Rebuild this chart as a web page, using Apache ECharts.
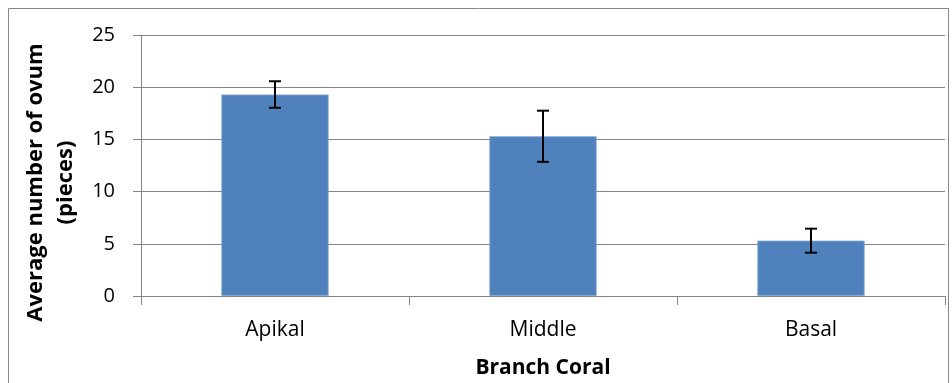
<!DOCTYPE html>
<html><head><meta charset="utf-8">
<script src="https://cdn.jsdelivr.net/npm/echarts@6/dist/echarts.min.js"></script>
<style>html,body{margin:0;padding:0;background:#fff}#c{width:952px;height:383px}</style>
</head><body><div id="c"></div>
<script>
const categories = ['Apikal', 'Middle', 'Basal'];
const means = [19.3, 15.3, 5.3];
const errors = [1.27, 2.45, 1.15];
const yTicks = [0, 5, 10, 15, 20, 25];

const chart = echarts.init(document.getElementById('c'));
const errData = categories.map((c, i) => [i, means[i] - errors[i], means[i] + errors[i]]);
const font = '"Open Sans", sans-serif';
chart.setOption({
  animation: false,
  backgroundColor: '#fff',
  graphic: [{
    type: 'rect', shape: {x: 8.5, y: 8.5, width: 940, height: 390},
    style: {fill: 'none', stroke: '#868686', lineWidth: 1}
  }],
  grid: {left: 141, right: 7, top: 35, bottom: 87, containLabel: false, outerBoundsMode: 'none'},
  xAxis: {
    type: 'category', data: categories,
    axisLine: {lineStyle: {color: '#868686', width: 1}},
    axisTick: {show: true, length: 9, lineStyle: {color: '#868686'}},
    axisLabel: {color: '#000', fontSize: 21, fontFamily: font, margin: 24},
    name: 'Branch Coral', nameLocation: 'middle', nameGap: 62,
    nameTextStyle: {color: '#000', fontSize: 21, fontWeight: 'bold', fontFamily: font}
  },
  yAxis: {
    type: 'value', min: yTicks[0], max: yTicks[yTicks.length - 1], interval: 5,
    axisLine: {show: true, lineStyle: {color: '#868686', width: 1}},
    axisTick: {show: true, length: 8, lineStyle: {color: '#868686'}},
    splitLine: {lineStyle: {color: '#868686', width: 1}},
    axisLabel: {color: '#000', fontSize: 20, fontFamily: font, margin: 26},
    name: 'Average number of ovum\n(pieces)', nameLocation: 'middle', nameGap: 59,
    nameTextStyle: {color: '#000', fontSize: 22, fontWeight: 'bold', fontFamily: font, lineHeight: 30, padding: [0, 34, 0, 0]}
  },
  series: [{
    type: 'bar', data: means, barWidth: '40%',
    itemStyle: {color: '#4F81BD', borderColor: '#7EA1CD', borderWidth: 0.8}
  }, {
    type: 'custom', data: errData, z: 10,
    renderItem: function (params, api) {
      const x = api.value(0);
      const lo = api.coord([x, api.value(1)]);
      const hi = api.coord([x, api.value(2)]);
      const hw = 6;
      const st = {stroke: '#000', lineWidth: 2};
      return {type: 'group', children: [
        {type: 'line', shape: {x1: lo[0], y1: lo[1], x2: hi[0], y2: hi[1]}, style: st},
        {type: 'line', shape: {x1: lo[0] - hw, y1: lo[1], x2: lo[0] + hw, y2: lo[1]}, style: st},
        {type: 'line', shape: {x1: hi[0] - hw, y1: hi[1], x2: hi[0] + hw, y2: hi[1]}, style: st}
      ]};
    }
  }]
});
</script></body></html>
